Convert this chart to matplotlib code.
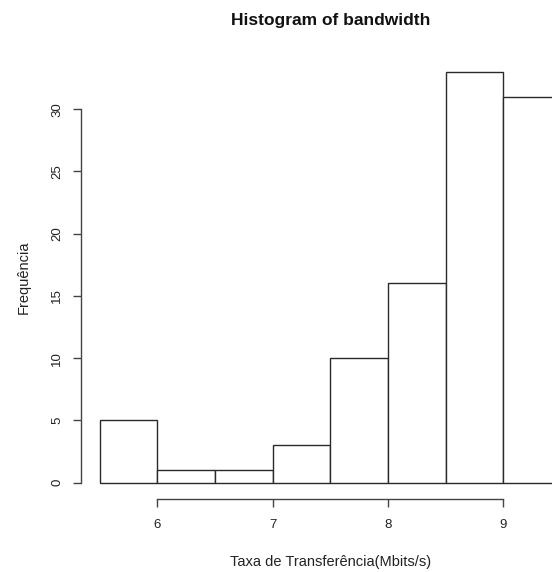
import matplotlib
matplotlib.use("Agg")
import matplotlib.pyplot as plt

bin_edges = [5.5, 6.0, 6.5, 7.0, 7.5, 8.0, 8.5, 9.0, 9.5]
counts = [5, 1, 1, 3, 10, 16, 33, 31]
x_ticks = [6, 7, 8, 9]
y_ticks = [0, 5, 10, 15, 20, 25, 30]
title = "Histogram of bandwidth"
xlabel = "Taxa de Transferência(Mbits/s)"
ylabel = "Frequência"

plt.rcParams['font.family'] = ['Liberation Sans', 'DejaVu Sans']
W, H = 552, 572
fig = plt.figure(figsize=(W / 100, H / 100), dpi=100)

# plot region in pixels (R style: 4% extension of range)
x0, x1 = bin_edges[0], bin_edges[-1]
xr = x1 - x0
xlo, xhi = x0 - 0.04 * xr, x1 + 0.04 * xr
ymax = max(counts)
ylo, yhi = -0.04 * ymax, ymax * 1.04
px_per_x = 115.3
left_px = 81.2
width_px = (xhi - xlo) * px_per_x
bottom_px = 499.1
top_px = 55.4
ax = fig.add_axes([left_px / W, 1 - bottom_px / H, width_px / W, (bottom_px - top_px) / H])
ax.set_xlim(xlo, xhi)
ax.set_ylim(ylo, yhi)

lefts = bin_edges[:-1]
widths = [b - a for a, b in zip(bin_edges[:-1], bin_edges[1:])]
ax.bar(lefts, counts, width=widths, align='edge', facecolor='white',
       edgecolor='#2a2a2a', linewidth=1.0)

for s in ['top', 'right']:
    ax.spines[s].set_visible(False)
ax.spines['bottom'].set_bounds(x_ticks[0], x_ticks[-1])
ax.spines['left'].set_bounds(y_ticks[0], y_ticks[-1])
for s in ['bottom', 'left']:
    ax.spines[s].set_color('#444444')
    ax.spines[s].set_linewidth(1.0)

ax.set_xticks(x_ticks)
ax.set_xticklabels([str(t) for t in x_ticks])
ax.set_yticks(y_ticks)
ax.set_yticklabels([str(t) for t in y_ticks], rotation=90, va='center')
ax.tick_params(axis='both', direction='out', length=6, width=1.0, color='#444444',
               labelsize=9.5, labelcolor='#222222')
ax.tick_params(axis='x', pad=8)
ax.tick_params(axis='y', pad=7)

cx = (left_px + width_px / 2) / W
fig.text(cx, 1 - 20 / H, title, ha='center', va='center', fontsize=12.5,
         fontweight='bold', color='#111111')
fig.text(cx, 1 - 562 / H, xlabel, ha='center', va='center', fontsize=10.5,
         color='#222222')
fig.text(24 / W, 1 - 277 / H, ylabel, ha='center', va='center', fontsize=10.5,
         rotation=90, color='#222222')

fig.savefig("out.png", dpi=100, facecolor='white')
